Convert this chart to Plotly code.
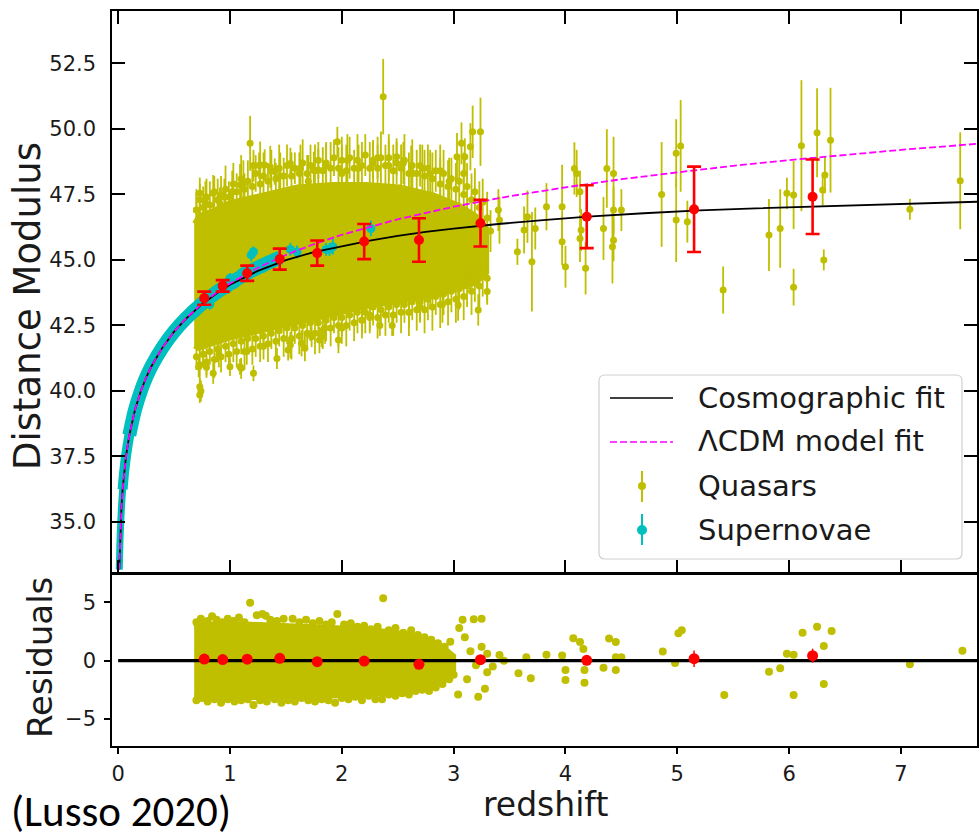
import plotly.graph_objects as go

# ---------------- data ----------------
# LambdaCDM model curve
z_lcdm = [0.01, 0.02, 0.03, 0.04, 0.05, 0.07, 0.1, 0.15, 0.2, 0.25, 0.3, 0.4, 0.5, 0.6,
          0.75, 0.9, 1.0, 1.25, 1.5, 1.75, 2.0, 2.5, 3.0, 3.5, 4.0, 4.5, 5.0, 5.5, 6.0,
          6.5, 7.0, 7.68]
mu_lcdm = [33.18, 34.70, 35.59, 36.24, 36.74, 37.50, 38.31, 39.27, 39.96, 40.51, 40.96,
           41.68, 42.26, 42.74, 43.33, 43.82, 44.10, 44.70, 45.19, 45.60, 45.96, 46.55,
           47.03, 47.43, 47.77, 48.08, 48.34, 48.59, 48.81, 49.01, 49.20, 49.43]

# Cosmographic fit curve
z_cosmo = [0.01, 0.02, 0.03, 0.04, 0.05, 0.07, 0.1, 0.15, 0.2, 0.25, 0.3, 0.4, 0.5, 0.6,
           0.75, 0.9, 1.0, 1.25, 1.5, 1.75, 2.0, 2.25, 2.5, 2.75, 3.0, 3.4, 3.8, 4.2,
           4.7, 5.2, 5.7, 6.2, 6.9, 7.68]
mu_cosmo = [33.18, 34.70, 35.59, 36.24, 36.74, 37.50, 38.31, 39.27, 39.96, 40.51, 40.96,
            41.68, 42.26, 42.73, 43.31, 43.78, 44.05, 44.58, 44.99, 45.30, 45.52, 45.74,
            45.92, 46.07, 46.19, 46.37, 46.52, 46.65, 46.78, 46.89, 46.97, 47.04, 47.13,
            47.22]

# binned averages (red)
z_bin = [0.77, 0.935, 1.154, 1.445, 1.78, 2.20, 2.69, 3.24, 4.19, 5.15, 6.21]
mu_bin = [43.54, 44.01, 44.49, 45.03, 45.26, 45.70, 45.76, 46.40, 46.65, 46.93, 47.41]
mu_bin_err = [0.25, 0.22, 0.29, 0.40, 0.48, 0.67, 0.83, 0.89, 1.20, 1.63, 1.42]
res_bin = [0.14, 0.10, 0.13, 0.20, -0.08, -0.03, -0.31, 0.09, 0.03, 0.17, 0.43]
res_bin_err = [0.1, 0.1, 0.1, 0.15, 0.15, 0.2, 0.25, 0.3, 0.4, 0.7, 0.6]

# dense quasar cloud outline (top panel)
qso_env_z = [0.68, 0.72, 0.85, 1.0, 1.3, 1.6, 1.92, 2.22, 2.52, 2.82, 3.05, 3.2, 3.3]
qso_env_hi = [46.4, 46.7, 46.9, 47.2, 47.5, 47.8, 47.9, 47.9, 47.8, 47.5, 47.1, 46.7, 46.2]
qso_env_lo = [41.7, 41.6, 41.8, 42.0, 42.3, 42.6, 42.9, 43.2, 43.4, 43.6, 43.9, 44.1, 44.5]

# quasars along the upper edge of the dense cloud
qso_te_z = [0.70, 0.73, 0.76, 0.79, 0.82, 0.86, 0.89, 0.92, 0.96, 0.99, 1.03, 1.06, 1.10,
            1.13, 1.16, 1.20, 1.23, 1.27, 1.30, 1.34, 1.37, 1.41, 1.44, 1.48, 1.51, 1.55,
            1.58, 1.62, 1.65, 1.69, 1.72, 1.76, 1.79, 1.83, 1.86, 1.90, 1.93, 1.97, 2.00,
            2.04, 2.07, 2.11, 2.14, 2.18, 2.21, 2.25, 2.28, 2.32, 2.35, 2.39, 2.42, 2.46,
            2.49, 2.53, 2.56, 2.60, 2.63, 2.67, 2.70, 2.74, 2.77, 2.81, 2.84, 2.88, 2.91,
            2.95, 2.98, 3.02, 3.05, 3.09, 3.12, 3.16, 3.19, 3.23, 3.26, 3.30]
qso_te_mu = [46.9, 47.3, 47.0, 47.4, 47.1, 47.6, 47.3, 47.5, 47.7, 47.4, 47.9, 47.6, 48.1,
             47.7, 48.0, 47.8, 48.3, 47.9, 48.2, 48.0, 48.4, 48.1, 48.5, 48.2, 48.6, 48.2,
             48.5, 48.3, 48.7, 48.3, 48.6, 48.4, 48.8, 48.4, 48.7, 48.5, 48.9, 48.5, 48.8,
             48.4, 48.9, 48.5, 48.8, 48.6, 49.0, 48.5, 48.8, 48.5, 48.9, 48.6, 48.9, 48.4,
             48.7, 48.5, 48.8, 48.3, 48.6, 48.3, 48.6, 48.2, 48.5, 48.1, 48.4, 47.9, 48.3,
             47.8, 48.1, 47.7, 48.0, 47.5, 47.8, 47.3, 47.6, 47.0, 47.2, 46.6]
qso_te_err = [0.7, 0.6, 0.8, 0.7, 0.9, 0.6, 0.8, 0.7, 0.9, 0.6, 0.8, 0.7, 0.9, 0.6, 0.8,
              0.9, 0.7, 0.6, 0.9, 0.7, 0.8, 0.6, 0.9, 0.7, 0.8, 0.9, 0.6, 0.8, 0.9, 0.7,
              0.8, 1.0, 0.7, 0.9, 0.8, 1.0, 0.7, 0.8, 0.9, 1.0, 0.8, 0.7, 1.0, 0.9, 0.8,
              1.0, 0.7, 0.9, 1.0, 0.8, 0.9, 1.0, 0.8, 0.9, 1.0, 0.8, 1.0, 0.9, 0.8, 1.0,
              0.9, 1.0, 0.8, 1.0, 0.9, 1.0, 0.8, 1.0, 0.9, 1.0, 0.9, 1.0, 0.9, 1.0, 0.9,
              1.0]

# quasars along the lower edge of the dense cloud
qso_be_z = [0.70, 0.73, 0.76, 0.79, 0.82, 0.86, 0.89, 0.92, 0.96, 0.99, 1.03, 1.06, 1.10,
            1.13, 1.16, 1.20, 1.23, 1.27, 1.30, 1.34, 1.37, 1.41, 1.44, 1.48, 1.51, 1.55,
            1.58, 1.62, 1.65, 1.69, 1.72, 1.76, 1.79, 1.83, 1.86, 1.90, 1.93, 1.97, 2.00,
            2.04, 2.07, 2.11, 2.14, 2.18, 2.21, 2.25, 2.28, 2.32, 2.35, 2.39, 2.42, 2.46,
            2.49, 2.53, 2.56, 2.60, 2.63, 2.67, 2.70, 2.74, 2.77, 2.81, 2.84, 2.88, 2.91,
            2.95, 2.98, 3.02, 3.05, 3.09, 3.12, 3.16, 3.19, 3.23, 3.26, 3.30]
qso_be_mu = [41.3, 41.0, 41.4, 41.1, 41.5, 41.2, 41.6, 41.3, 41.7, 41.4, 41.8, 41.5, 41.9,
             41.5, 42.0, 41.6, 42.0, 41.7, 42.1, 41.8, 42.2, 41.9, 42.3, 42.0, 42.4, 42.0,
             42.4, 42.1, 42.5, 42.2, 42.6, 42.2, 42.6, 42.3, 42.7, 42.4, 42.8, 42.5, 42.8,
             42.5, 42.9, 42.6, 43.0, 42.7, 43.0, 42.8, 43.2, 42.8, 43.1, 42.9, 43.2, 42.9,
             43.3, 43.0, 43.3, 43.0, 43.4, 43.1, 43.4, 43.1, 43.5, 43.2, 43.6, 43.3, 43.7,
             43.4, 43.8, 43.5, 43.9, 43.6, 44.0, 43.8, 44.2, 44.0, 44.4, 44.3]
qso_be_err = [0.5, 0.6, 0.5, 0.6, 0.5, 0.7, 0.5, 0.6, 0.6, 0.5, 0.7, 0.6, 0.5, 0.7, 0.6,
              0.6, 0.7, 0.6, 0.5, 0.7, 0.6, 0.7, 0.6, 0.7, 0.6, 0.8, 0.6, 0.7, 0.8, 0.6,
              0.7, 0.8, 0.6, 0.7, 0.8, 0.7, 0.6, 0.8, 0.7, 0.8, 0.6, 0.7, 0.8, 0.7, 0.8,
              0.6, 0.7, 0.8, 0.7, 0.8, 0.6, 0.8, 0.7, 0.8, 0.7, 0.9, 0.7, 0.8, 0.7, 0.9,
              0.8, 0.9, 0.7, 0.9, 0.8, 0.9, 0.8, 0.9, 0.8, 0.9, 0.8, 0.9, 0.8, 0.9, 0.8,
              0.9]

# individual quasars, upper outliers
qso_up_z = [1.18, 1.96, 2.37, 1.21, 1.26, 1.31, 1.40, 1.36, 2.49, 3.15, 3.24, 3.17, 3.07,
            3.10, 2.63, 1.54, 1.09, 0.73, 0.85, 0.91, 1.75, 1.27, 1.79, 0.73, 2.28, 2.62,
            2.79, 3.03, 3.09, 1.63, 1.86, 2.05, 2.15, 2.42, 2.55, 2.72, 2.88, 2.96, 1.45,
            1.02, 1.12, 0.78, 0.95, 0.70, 2.32, 1.70, 2.00]
qso_up_mu = [49.45, 49.51, 51.23, 48.60, 48.60, 48.62, 48.37, 48.55, 48.94, 49.32, 49.89,
             49.89, 49.45, 48.94, 48.30, 48.68, 47.86, 47.54, 47.54, 47.16, 48.43, 48.62,
             48.43, 46.65, 48.68, 48.36, 48.30, 48.94, 48.30, 48.50, 48.60, 48.80, 48.50,
             48.60, 48.70, 48.50, 48.40, 48.00, 48.20, 47.60, 47.90, 47.20, 47.40, 46.90,
             48.90, 48.00, 48.30]
qso_up_err = [1.05, 0.57, 1.44, 0.6, 0.5, 0.6, 0.5, 0.8, 0.7, 0.9, 1.3, 1.0, 0.8, 0.7, 0.9,
              0.6, 0.8, 0.6, 0.7, 0.6, 0.7, 0.9, 0.8, 0.9, 0.9, 1.0, 0.9, 0.9, 0.8, 0.9,
              0.8, 1.0, 0.9, 1.0, 0.8, 0.9, 1.0, 0.9, 0.9, 0.8, 0.9, 0.8, 0.7, 0.8, 0.8,
              1.0, 1.1]

# individual quasars, lower outliers
qso_lo_z = [0.73, 0.73, 0.74, 0.79, 1.00, 1.09, 1.21, 1.42, 1.52, 1.64, 1.73, 1.82, 1.97,
            2.18, 2.34, 2.45, 3.04, 3.22, 3.30, 0.72, 0.85, 1.10, 1.54, 1.67, 1.80, 2.79,
            0.90, 1.30, 2.00, 2.60, 2.90, 0.76, 1.15, 1.85, 2.25, 2.70]
qso_lo_mu = [40.16, 39.84, 40.00, 40.90, 40.92, 40.92, 40.67, 41.24, 41.56, 41.82, 42.07,
             42.07, 41.94, 42.71, 42.50, 42.50, 43.28, 43.09, 43.79, 40.92, 40.67, 40.86,
             41.75, 41.63, 41.94, 43.72, 41.40, 41.70, 42.40, 43.00, 43.30, 41.40, 41.50,
             42.40, 42.90, 43.20]
qso_lo_err = [0.3, 0.3, 0.4, 0.3, 0.35, 0.3, 0.3, 0.4, 0.4, 0.5, 0.4, 0.4, 0.5, 0.5, 0.4,
              0.4, 0.6, 0.6, 0.5, 0.4, 0.4, 0.4, 0.5, 0.5, 0.5, 0.6, 0.5, 0.5, 0.6, 0.6,
              0.7, 0.5, 0.5, 0.6, 0.6, 0.6]

# individual quasars, high redshift
qso_hz_z = [3.27, 3.40, 3.41, 3.33, 3.57, 3.63, 3.66, 3.70, 3.73, 3.83, 3.97, 3.97, 4.00,
            4.08, 4.10, 4.13, 4.14, 4.13, 4.18, 4.34, 4.37, 4.43, 4.43, 4.43, 4.42, 4.50,
            4.86, 4.99, 5.03, 4.99, 5.09, 5.41, 5.82, 5.92, 5.98, 6.04, 6.04, 6.11, 6.25,
            6.30, 6.32, 6.31, 6.37, 7.08, 7.53]
qso_hz_mu = [45.13, 46.90, 46.52, 46.10, 45.31, 46.14, 46.65, 44.93, 46.20, 47.03, 47.03,
             45.69, 44.74, 48.49, 48.30, 47.60, 46.14, 45.82, 44.68, 46.20, 48.49, 48.30,
             46.90, 45.75, 45.50, 46.90, 47.50, 49.07, 49.35, 46.52, 46.46, 43.85, 45.95,
             46.20, 47.54, 47.48, 43.96, 49.36, 49.85, 47.67, 48.24, 45.00, 49.57, 46.93,
             48.02]
qso_hz_err = [0.9, 0.8, 0.9, 0.8, 0.5, 0.9, 1.0, 1.9, 0.8, 0.9, 1.6, 0.9, 0.8, 1.0, 0.9,
              0.8, 0.8, 0.9, 1.0, 1.2, 1.5, 1.4, 0.9, 0.8, 1.4, 0.8, 2.0, 1.3, 1.75, 1.6,
              0.8, 0.9, 1.37, 1.5, 0.6, 1.3, 0.7, 2.5, 1.7, 0.6, 0.7, 0.4, 2.0, 0.4, 1.85]

# supernovae: dense band (three thickness sections) and scattered points
sn_band1_z = [0.01, 0.015, 0.02, 0.03, 0.04, 0.05]
sn_band1_mu = [33.18, 34.06, 34.70, 35.59, 36.24, 36.74]
sn_band2_z = [0.04, 0.05, 0.07, 0.1, 0.12]
sn_band2_mu = [36.24, 36.74, 37.50, 38.31, 38.73]
sn_band3_z = [0.1, 0.15, 0.2, 0.25, 0.3, 0.4, 0.5, 0.6, 0.75, 0.9, 1.0, 1.2, 1.45]
sn_band3_mu = [38.31, 39.27, 39.96, 40.51, 40.96, 41.68, 42.26, 42.74, 43.33, 43.82,
               44.10, 44.60, 45.10]
sn_pts_z = [0.60, 0.65, 0.70, 0.72, 0.78, 0.82, 0.86, 0.90, 0.94, 0.98, 1.00, 1.05, 1.10,
            1.14, 1.19, 1.21, 1.25, 1.30, 1.35, 1.40, 1.54, 1.60, 1.86, 1.89, 1.92, 2.26]
sn_pts_mu = [42.85, 43.05, 43.00, 43.30, 43.60, 43.30, 43.80, 43.75, 44.00, 43.90, 44.30,
             44.10, 44.50, 44.60, 45.19, 45.31, 44.80, 44.70, 44.95, 45.05, 45.40, 45.30,
             45.40, 45.40, 45.50, 46.20]
sn_pts_err = [0.15, 0.15, 0.15, 0.15, 0.15, 0.2, 0.2, 0.15, 0.2, 0.2, 0.2, 0.2, 0.2, 0.2,
              0.25, 0.2, 0.2, 0.2, 0.2, 0.2, 0.25, 0.25, 0.25, 0.25, 0.3, 0.3]

# residuals: dense cloud outline
res_env_z = [0.68, 0.75, 1.0, 1.3, 1.6, 2.0, 2.3, 2.6, 2.75, 2.9, 3.0]
res_env_hi = [2.9, 3.1, 3.2, 3.1, 3.0, 2.8, 2.6, 2.3, 1.9, 1.2, 0.4]
res_env_lo = [-3.0, -3.1, -3.2, -3.2, -3.1, -3.0, -2.9, -2.7, -2.4, -1.8, -0.8]

# residuals: individual points
res_top_z = [0.70, 0.74, 0.80, 0.84, 0.88, 0.93, 0.98, 1.03, 1.08, 1.13, 1.18, 1.24, 1.29,
             1.32, 1.36, 1.42, 1.48, 1.56, 1.62, 1.68, 1.74, 1.80, 1.86, 1.91, 1.96, 2.02,
             2.08, 2.14, 2.20, 2.26, 2.32, 2.37, 2.42, 2.48, 2.55, 2.62, 2.68, 2.74, 2.80,
             2.86, 2.92]
res_top_r = [3.3, 3.6, 3.4, 3.8, 3.5, 3.3, 3.6, 3.4, 3.7, 3.3, 4.97, 3.9, 4.0, 3.85, 3.5,
             3.4, 3.6, 3.6, 3.3, 3.5, 3.2, 3.4, 3.1, 3.3, 4.0, 3.1, 3.2, 2.9, 3.0, 2.7, 2.9,
             5.35, 2.6, 2.8, 2.4, 2.6, 2.2, 2.0, 1.8, 1.5, 1.2]
res_bot_z = [0.70, 0.75, 0.80, 0.86, 0.92, 0.98, 1.04, 1.10, 1.16, 1.21, 1.27, 1.33, 1.40,
             1.46, 1.52, 1.58, 1.64, 1.70, 1.76, 1.82, 1.88, 1.94, 2.00, 2.06, 2.12, 2.18,
             2.24, 2.30, 2.36, 2.42, 2.48, 2.54, 2.60, 2.66, 2.72, 2.78, 2.84, 2.90, 2.96]
res_bot_r = [-3.4, -3.2, -3.5, -3.3, -3.6, -3.3, -3.5, -3.4, -3.3, -3.8, -3.4, -3.5, -3.3,
             -3.6, -3.4, -3.5, -3.2, -3.4, -3.5, -3.3, -3.4, -3.6, -3.2, -3.3, -3.1, -3.4,
             -3.0, -3.3, -3.3, -2.9, -3.0, -2.8, -2.9, -2.6, -2.5, -2.6, -2.3, -2.0, -1.6]
res_out_z = [3.08, 3.18, 3.25, 3.05, 2.97, 3.10, 3.15, 3.20, 3.25, 3.30, 3.35, 3.41, 3.45,
             3.30, 3.04, 3.22, 3.28, 3.00, 3.12, 3.58, 3.69, 3.65, 3.83, 3.97, 4.00, 4.00,
             4.07, 4.13, 4.16, 4.17, 4.17, 4.34, 4.39, 4.45, 4.45, 4.45, 4.50, 4.87, 4.98,
             5.01, 5.04, 5.42, 5.82, 5.92, 5.98, 6.04, 6.04, 6.12, 6.25, 6.31, 6.31, 6.38,
             7.08, 7.55]
res_out_r = [3.5, 3.55, 3.6, 2.8, 1.63, 2.0, 0.8, -0.4, 1.2, 0.6, -0.5, 0.49, 0.0, -1.0,
             -2.9, -3.1, -2.4, -1.2, -1.6, -1.08, -1.5, 0.3, 0.5, 0.45, -0.8, -1.65, 1.92,
             1.6, 1.0, -0.8, -1.88, -0.6, 1.9, 1.6, 0.3, -0.8, 0.3, 0.78, -0.2, 2.35, 2.6,
             -2.94, -0.94, -0.65, 0.6, 0.5, -2.94, 2.4, 2.9, 1.26, -2.0, 2.54, -0.31, 0.86]
res_zero_z = [0.0, 7.68]
res_zero_r = [0.0, 0.0]

# axis ticks
mu_ticks = [35.0, 37.5, 40.0, 42.5, 45.0, 47.5, 50.0, 52.5]
mu_ticktext = ["35.0", "37.5", "40.0", "42.5", "45.0", "47.5", "50.0", "52.5"]
z_ticks = [0, 1, 2, 3, 4, 5, 6, 7]
res_ticks = [-5, 0, 5]
res_ticktext = ["\u22125", "0", "5"]

# ---------------- figure ----------------
W, H = 979, 839
OLIVE = "#bfbf00"
CYAN = "#00bfbf"
RED = "#ff0000"
MAGENTA = "#ff00ff"
FONT = "DejaVu Sans"
TXT = "#1a1a1a"


def px(x):
    return x / W


def py(y):
    return 1 - y / H


fig = go.Figure()

# ---- top panel ----
fig.add_trace(go.Scatter(
    x=qso_env_z + qso_env_z[::-1], y=qso_env_hi + qso_env_lo[::-1],
    fill="toself", fillcolor=OLIVE, mode="lines", line=dict(width=4, color=OLIVE),
    xaxis="x", yaxis="y", showlegend=False, hoverinfo="skip"))

qz = qso_te_z + qso_be_z + qso_up_z + qso_lo_z + qso_hz_z
qmu = qso_te_mu + qso_be_mu + qso_up_mu + qso_lo_mu + qso_hz_mu
qerr = qso_te_err + qso_be_err + qso_up_err + qso_lo_err + qso_hz_err
fig.add_trace(go.Scatter(
    x=qz, y=qmu, mode="markers", marker=dict(color=OLIVE, size=7),
    error_y=dict(type="data", array=qerr, color=OLIVE, thickness=1.8, width=0),
    xaxis="x", yaxis="y", showlegend=False))

for bz, bmu, bw in [(sn_band1_z, sn_band1_mu, 7), (sn_band2_z, sn_band2_mu, 10),
                    (sn_band3_z, sn_band3_mu, 14)]:
    fig.add_trace(go.Scatter(
        x=bz, y=bmu, mode="lines", line=dict(color=CYAN, width=bw, shape="spline"),
        xaxis="x", yaxis="y", showlegend=False, hoverinfo="skip"))
fig.add_trace(go.Scatter(
    x=sn_pts_z, y=sn_pts_mu, mode="markers", marker=dict(color=CYAN, size=9),
    error_y=dict(type="data", array=sn_pts_err, color=CYAN, thickness=1.8, width=0),
    xaxis="x", yaxis="y", showlegend=False))

fig.add_trace(go.Scatter(
    x=z_cosmo, y=mu_cosmo, mode="lines", line=dict(color="black", width=1.8),
    xaxis="x", yaxis="y", showlegend=False))
fig.add_trace(go.Scatter(
    x=z_lcdm, y=mu_lcdm, mode="lines",
    line=dict(color=MAGENTA, width=1.8, dash="7px,3px"),
    xaxis="x", yaxis="y", showlegend=False))

fig.add_trace(go.Scatter(
    x=z_bin, y=mu_bin, mode="markers", marker=dict(color=RED, size=10),
    error_y=dict(type="data", array=mu_bin_err, color=RED, thickness=2.6, width=7),
    xaxis="x", yaxis="y", showlegend=False))

# ---- residual panel ----
fig.add_trace(go.Scatter(
    x=res_env_z + res_env_z[::-1], y=res_env_hi + res_env_lo[::-1],
    fill="toself", fillcolor=OLIVE, mode="lines", line=dict(width=5, color=OLIVE),
    xaxis="x2", yaxis="y2", showlegend=False, hoverinfo="skip"))
fig.add_trace(go.Scatter(
    x=res_top_z + res_bot_z + res_out_z, y=res_top_r + res_bot_r + res_out_r,
    mode="markers", marker=dict(color=OLIVE, size=8),
    xaxis="x2", yaxis="y2", showlegend=False))
fig.add_trace(go.Scatter(
    x=res_zero_z, y=res_zero_r, mode="lines", line=dict(color="black", width=3.2),
    xaxis="x2", yaxis="y2", showlegend=False, hoverinfo="skip"))
fig.add_trace(go.Scatter(
    x=z_bin, y=res_bin, mode="markers", marker=dict(color=RED, size=11),
    error_y=dict(type="data", array=res_bin_err, color=RED, thickness=1.5, width=0),
    xaxis="x2", yaxis="y2", showlegend=False))

# ---- axes ----
x_dom = [px(112), px(977)]
z_range = [-0.055, 7.68]
tickfont = dict(family=FONT, size=21, color=TXT)

fig.update_layout(
    width=W, height=H, autosize=False,
    margin=dict(l=0, r=0, t=0, b=0),
    paper_bgcolor="white", plot_bgcolor="white",
    showlegend=False,
    xaxis=dict(domain=x_dom, range=z_range, anchor="y", tickvals=z_ticks,
               showticklabels=False, ticks="inside", ticklen=13, tickwidth=1.5,
               tickcolor="black", showline=True, linecolor="black", linewidth=1.5,
               mirror="ticks", showgrid=False, zeroline=False),
    yaxis=dict(domain=[py(573), py(11)], range=[33.05, 54.5], anchor="x",
               tickvals=mu_ticks, ticktext=mu_ticktext, ticks="inside", ticklen=13,
               tickwidth=1.5, tickcolor="black", showline=True, linecolor="black",
               linewidth=1.5, mirror="ticks", showgrid=False, zeroline=False,
               tickfont=tickfont, ticklabelstandoff=10),
    xaxis2=dict(domain=x_dom, range=z_range, anchor="y2", tickvals=z_ticks,
                ticks="outside", ticklen=6, tickwidth=1.5, tickcolor="black",
                showline=True, linecolor="black", linewidth=1.5, mirror=True,
                showgrid=False, zeroline=False, tickfont=tickfont,
                ticklabelstandoff=2),
    yaxis2=dict(domain=[py(746), py(574)], range=[-7.31, 7.43], anchor="x2",
                tickvals=res_ticks, ticktext=res_ticktext, ticks="outside", ticklen=6,
                tickwidth=1.5, tickcolor="black", showline=True, linecolor="black",
                linewidth=1.5, mirror=True, showgrid=False, zeroline=False,
                tickfont=tickfont, ticklabelstandoff=4),
)

# ---- titles / labels ----
ann = [
    dict(text="Distance Modulus", x=px(28), y=py(306), textangle=-90,
         font=dict(family=FONT, size=37, color=TXT)),
    dict(text="Residuals", x=px(40), y=py(658), textangle=-90,
         font=dict(family=FONT, size=34, color=TXT)),
    dict(text="redshift", x=px(545), y=py(804),
         font=dict(family=FONT, size=33, color=TXT)),
    dict(text="(Lusso 2020)", x=px(9), y=py(811), xanchor="left",
         font=dict(family="Carlito, Lato, sans-serif", size=43, color="black")),
]

# ---- hand-built legend (matplotlib style) ----
lx0, lx1, ly0, ly1, rad = 599, 962, 375, 559, 6
X0, X1, YT, YB = px(lx0), px(lx1), py(ly0), py(ly1)
rx, ry = rad / W, rad / H
path = (f"M {X0+rx},{YT} L {X1-rx},{YT} Q {X1},{YT} {X1},{YT-ry} "
        f"L {X1},{YB+ry} Q {X1},{YB} {X1-rx},{YB} L {X0+rx},{YB} "
        f"Q {X0},{YB} {X0},{YB+ry} L {X0},{YT-ry} Q {X0},{YT} {X0+rx},{YT} Z")
shapes = [
    dict(type="path", path=path, xref="paper", yref="paper",
         fillcolor="rgba(255,255,255,0.85)", line=dict(color="#d0d0d0", width=1.2)),
    dict(type="line", xref="paper", yref="paper", x0=px(610), x1=px(673),
         y0=py(398), y1=py(398), line=dict(color="black", width=1.6)),
    dict(type="line", xref="paper", yref="paper", x0=px(610), x1=px(673),
         y0=py(442), y1=py(442), line=dict(color=MAGENTA, width=1.6, dash="7px,3px")),
    dict(type="line", xref="paper", yref="paper", x0=px(642), x1=px(642),
         y0=py(471), y1=py(502), line=dict(color=OLIVE, width=2)),
    dict(type="circle", xref="paper", yref="paper", x0=px(638), x1=px(646),
         y0=py(490), y1=py(482), fillcolor=OLIVE, line=dict(color=OLIVE, width=0)),
    dict(type="line", xref="paper", yref="paper", x0=px(642), x1=px(642),
         y0=py(514), y1=py(545), line=dict(color=CYAN, width=2)),
    dict(type="circle", xref="paper", yref="paper", x0=px(637), x1=px(647),
         y0=py(535), y1=py(525), fillcolor=CYAN, line=dict(color=CYAN, width=0)),
]
for label, yy in [("Cosmographic fit", 398), ("\u039bCDM model fit", 441),
                  ("Quasars", 486), ("Supernovae", 530)]:
    ann.append(dict(text=label, x=px(696), y=py(yy), xanchor="left", yanchor="middle",
                    font=dict(family=FONT, size=29, color=TXT)))

for a in ann:
    a.setdefault("xref", "paper")
    a.setdefault("yref", "paper")
    a.setdefault("showarrow", False)
    a.setdefault("xanchor", "center")
    a.setdefault("yanchor", "middle")

fig.update_layout(annotations=ann, shapes=shapes)
fig.write_html("out.html")
